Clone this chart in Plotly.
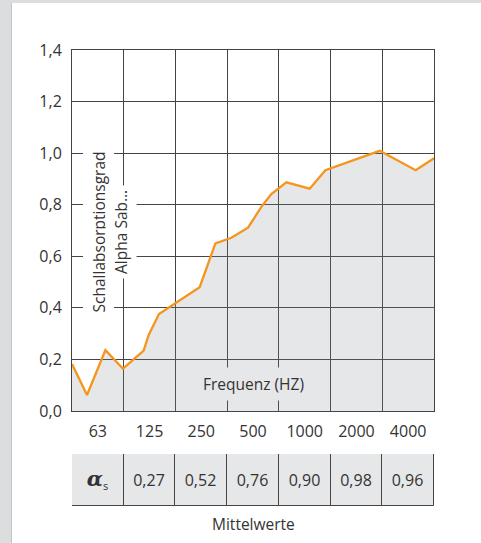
import plotly.graph_objects as go

# ---- data ----
octave_pos = [0.0, 0.29, 0.646, 0.986, 1.386, 1.483, 1.682, 1.986, 2.469, 2.773,
              3.082, 3.403, 3.674, 3.855, 4.145, 4.596, 4.90, 5.95, 6.645, 7.0]
alpha_vals = [0.182, 0.062, 0.236, 0.164, 0.234, 0.295, 0.376, 0.415, 0.48, 0.65,
              0.672, 0.711, 0.795, 0.841, 0.887, 0.862, 0.934, 1.009, 0.934, 0.98]
freq_labels = ["63", "125", "250", "500", "1000", "2000", "4000"]
band_centers = [0.5, 1.5, 2.5, 3.5, 4.5, 5.5, 6.5]
band_edges = [1, 2, 3, 4, 5, 6]
mean_vals = [0.27, 0.52, 0.76, 0.90, 0.98, 0.96]
y_ticks = [0.0, 0.2, 0.4, 0.6, 0.8, 1.0, 1.2, 1.4]

FONT = "Open Sans"
TXT = "#333333"
GRID = "#444444"
FILL = "rgba(130,135,140,0.2)"
FILL_SOLID = "#e6e7e8"
ORANGE = "#f7941d"

W, H = 481, 543
ML, MR, MT, MB = 72, 47, 50, 37
PW = W - ML - MR
PH = H - MT - MB


def px_x(px):
    return (px - ML) / PW


def px_y(py):
    return (H - MB - py) / PH


fig = go.Figure()

fig.add_trace(go.Scatter(
    x=octave_pos, y=alpha_vals, mode="lines",
    line=dict(color=ORANGE, width=2.3),
    fill="tozeroy", fillcolor=FILL,
    hoverinfo="skip", showlegend=False,
    xaxis="x", yaxis="y",
))

# table row (Mittelwerte) as bar cells
cell_text = ["<b><i>α</i></b><sub><span style='font-family:Open Sans;font-size:11px;font-weight:normal'>s</span></sub>"] + \
            [f"{v:.2f}".replace(".", ",") for v in mean_vals]
cell_family = ["DejaVu Serif"] + [FONT] * len(mean_vals)
cell_size = [21] + [16] * len(mean_vals)
fig.add_trace(go.Bar(
    x=list(range(len(cell_text))), y=[1] * len(cell_text), base=0, width=1,
    marker=dict(color=FILL_SOLID, line=dict(color=GRID, width=1)),
    text=cell_text, textposition="inside", insidetextanchor="middle",
    textangle=0, constraintext="none",
    textfont=dict(family=cell_family, size=cell_size, color=TXT),
    hoverinfo="skip", showlegend=False, cliponaxis=False,
    xaxis="x2", yaxis="y2",
))

main_bottom = px_y(411)
fig.update_layout(
    width=W, height=H,
    margin=dict(l=ML, r=MR, t=MT, b=MB, pad=0),
    paper_bgcolor="white", plot_bgcolor="white",
    separators=",.",
    font=dict(family=FONT, size=16, color=TXT),
    bargap=0,
    xaxis=dict(
        domain=[0, 1], range=[0, 7], anchor="y",
        tickmode="array", tickvals=band_centers, ticktext=freq_labels,
        ticks="", showgrid=False, zeroline=False,
        showline=True, mirror=True, linecolor=GRID, linewidth=1,
        ticklabelstandoff=6,
        tickfont=dict(family=FONT, size=16, color=TXT),
        minor=dict(tickmode="array", tickvals=band_edges, showgrid=True,
                   gridcolor=GRID, gridwidth=1, ticks=""),
        fixedrange=True,
    ),
    yaxis=dict(
        domain=[main_bottom, 1], range=[0, 1.4], anchor="x",
        tickmode="array", tickvals=y_ticks, tickformat=".1f",
        ticks="", showgrid=True, gridcolor=GRID, gridwidth=1, zeroline=False,
        showline=True, mirror=True, linecolor=GRID, linewidth=1,
        ticklabelstandoff=6,
        tickfont=dict(family=FONT, size=16, color=TXT),
        fixedrange=True,
    ),
    xaxis2=dict(domain=[0, 1], range=[-0.5, 6.5], anchor="y2", visible=False, fixedrange=True),
    yaxis2=dict(domain=[0, px_y(454)], range=[0, 1], anchor="x2", visible=False, fixedrange=True),
)

# page border strips
fig.add_shape(type="rect", xref="paper", yref="paper",
              x0=px_x(-2), x1=px_x(11), y0=px_y(H + 5), y1=px_y(-5),
              fillcolor="#dcddde", line_width=0, layer="below")
fig.add_shape(type="rect", xref="paper", yref="paper",
              x0=px_x(-2), x1=px_x(W + 2), y0=px_y(3), y1=px_y(-5),
              fillcolor="#dcddde", line_width=0, layer="below")
fig.add_shape(type="line", xref="paper", yref="paper",
              x0=px_x(11.5), x1=px_x(11.5), y0=px_y(H + 5), y1=px_y(3),
              line=dict(color="#c4c5c6", width=1), layer="below")

# axis title in two boxed lines
fig.add_annotation(text="Schallabsorptionsgrad", textangle=-90,
                   xref="x domain", yref="y domain", x=(98.5 - ML) / PW, y=0.496,
                   xanchor="center", yanchor="middle",
                   showarrow=False, bgcolor="white", borderpad=4,
                   font=dict(family=FONT, size=15.5, color=TXT))
fig.add_annotation(text="Alpha Sab…", textangle=-90,
                   xref="x domain", yref="y domain", x=(121 - ML) / PW, y=0.496,
                   xanchor="center", yanchor="middle",
                   showarrow=False, bgcolor="white", borderpad=4,
                   font=dict(family=FONT, size=15.5, color=TXT))
fig.add_annotation(text="Frequenz (HZ)",
                   xref="x domain", yref="y domain", x=0.5, y=(411 - 384) / 361,
                   xanchor="center", yanchor="middle",
                   showarrow=False, bgcolor=FILL_SOLID, borderpad=5,
                   font=dict(family=FONT, size=15.5, color=TXT))
fig.add_annotation(text="Mittelwerte",
                   xref="paper", yref="paper", x=0.5, y=px_y(524),
                   xanchor="center", yanchor="middle",
                   showarrow=False,
                   font=dict(family=FONT, size=15.5, color=TXT))

fig.write_html("out.html", config={"displayModeBar": False},
               post_script="document.body.style.margin='0';")
